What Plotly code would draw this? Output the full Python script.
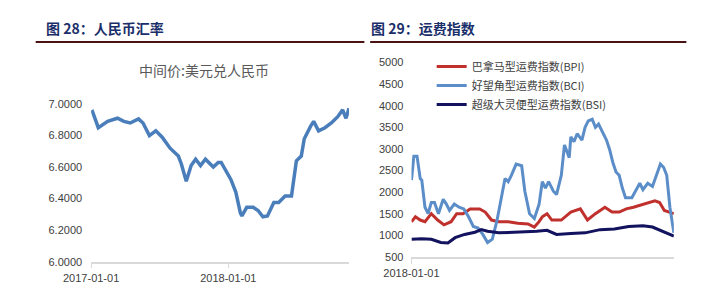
import plotly.graph_objects as go

# ---------------- data ----------------
# Figure 28: USD/CNY central parity
fx_dates = ["2017-01-03", "2017-01-20", "2017-02-14", "2017-03-12", "2017-03-29", "2017-04-15",
            "2017-05-07", "2017-05-19", "2017-06-05", "2017-06-22", "2017-07-09", "2017-07-30",
            "2017-08-21", "2017-08-29", "2017-09-11", "2017-09-24", "2017-10-06", "2017-10-19",
            "2017-11-01", "2017-11-22", "2017-12-05", "2017-12-13", "2018-01-08", "2018-01-21",
            "2018-02-02", "2018-02-06", "2018-02-19", "2018-03-08", "2018-03-21", "2018-04-03",
            "2018-04-15", "2018-05-02", "2018-05-15", "2018-06-01", "2018-06-18", "2018-07-01",
            "2018-07-14", "2018-07-22", "2018-08-08", "2018-08-16", "2018-08-29", "2018-09-15",
            "2018-10-02", "2018-10-19", "2018-11-01", "2018-11-10", "2018-11-18"]
fx_values = [6.963, 6.85, 6.89, 6.91, 6.89, 6.88,
             6.906, 6.88, 6.80, 6.83, 6.79, 6.72,
             6.67, 6.62, 6.51, 6.61, 6.65, 6.61,
             6.65, 6.60, 6.63, 6.63, 6.52, 6.44,
             6.31, 6.29, 6.345, 6.345, 6.325, 6.285,
             6.29, 6.375, 6.375, 6.416, 6.416, 6.64,
             6.67, 6.78, 6.86, 6.89, 6.83, 6.85,
             6.88, 6.92, 6.963, 6.91, 6.973]
fx_ticks = ["2017-01-01", "2018-01-01"]
fx_yticks = [6.0, 6.2, 6.4, 6.6, 6.8, 7.0]

# Figure 29: freight indices
bci_dates = ["2018-01-01", "2018-01-04", "2018-01-08", "2018-01-12", "2018-01-14", "2018-01-18",
             "2018-01-22", "2018-01-26", "2018-01-30", "2018-02-04", "2018-02-10", "2018-02-14",
             "2018-02-18", "2018-02-24", "2018-03-02", "2018-03-08", "2018-03-14", "2018-03-20",
             "2018-03-26", "2018-04-01", "2018-04-07", "2018-04-13", "2018-04-19", "2018-04-25",
             "2018-04-29", "2018-05-03", "2018-05-07", "2018-05-13", "2018-05-20", "2018-05-24",
             "2018-05-30", "2018-06-05", "2018-06-11", "2018-06-15", "2018-06-19", "2018-06-23",
             "2018-06-29", "2018-07-03", "2018-07-09", "2018-07-13", "2018-07-19", "2018-07-21",
             "2018-07-25", "2018-07-29", "2018-08-04", "2018-08-08", "2018-08-12", "2018-08-17",
             "2018-08-21", "2018-08-25", "2018-08-29", "2018-09-04", "2018-09-08", "2018-09-12",
             "2018-09-16", "2018-09-20", "2018-09-24", "2018-09-28", "2018-10-06", "2018-10-12",
             "2018-10-16", "2018-10-20", "2018-10-26", "2018-11-01", "2018-11-07", "2018-11-11",
             "2018-11-15", "2018-11-19", "2018-11-23", "2018-11-28"]
bci_values = [2278, 2833, 2833, 2315, 2278, 1649,
              1500, 1760, 1760, 1500, 1833, 1722,
              1575, 1722, 1649, 1611, 1427, 1204,
              1167, 1020, 833, 909, 1353, 1944,
              2315, 2242, 2389, 2649, 2611, 2020,
              1500, 1389, 1722, 2242, 2093, 2242,
              2020, 1944, 2389, 3093, 2798, 3278,
              3167, 3353, 3204, 3500, 3649, 3686,
              3500, 3575, 3427, 3204, 2982, 2686,
              2464, 2389, 2093, 1871, 1871, 2056,
              2204, 2056, 2204, 2131, 2427, 2649,
              2575, 2389, 1649, 1056]

bpi_dates = ["2018-01-01", "2018-01-06", "2018-01-12", "2018-01-18", "2018-01-26", "2018-02-03",
             "2018-02-11", "2018-02-20", "2018-02-27", "2018-03-07", "2018-03-16", "2018-03-28",
             "2018-04-04", "2018-04-12", "2018-04-21", "2018-05-03", "2018-05-15", "2018-05-28",
             "2018-06-05", "2018-06-11", "2018-06-15", "2018-06-21", "2018-06-27", "2018-07-09",
             "2018-07-21", "2018-08-02", "2018-08-11", "2018-08-21", "2018-09-02", "2018-09-11",
             "2018-09-20", "2018-09-29", "2018-10-08", "2018-10-20", "2018-10-29", "2018-11-04",
             "2018-11-10", "2018-11-16", "2018-11-28"]
bpi_values = [1315, 1427, 1353, 1315, 1500, 1353,
              1242, 1315, 1500, 1500, 1611, 1611,
              1538, 1353, 1315, 1315, 1278, 1264,
              1190, 1315, 1427, 1500, 1353, 1353,
              1538, 1611, 1353, 1500, 1649, 1538,
              1538, 1611, 1649, 1722, 1760, 1797,
              1760, 1575, 1500]

bsi_dates = ["2018-01-01", "2018-01-14", "2018-01-26", "2018-02-07", "2018-02-16", "2018-02-25",
             "2018-03-09", "2018-03-22", "2018-03-30", "2018-04-07", "2018-04-21", "2018-05-15",
             "2018-06-08", "2018-06-21", "2018-07-03", "2018-07-21", "2018-08-08", "2018-08-27",
             "2018-09-14", "2018-10-02", "2018-10-20", "2018-11-01", "2018-11-14", "2018-11-28"]
bsi_values = [909, 922, 909, 833, 820, 944,
              1020, 1071, 1131, 1093, 1056, 1071,
              1093, 1115, 1020, 1042, 1056, 1131,
              1144, 1204, 1220, 1190, 1093, 983]

freight_names = ["巴拿马型运费指数(BPI)", "好望角型运费指数(BCI)", "超级大灵便型运费指数(BSI)"]
freight_ticks = ["2018-01-01"]
freight_yticks = [500, 1000, 1500, 2000, 2500, 3000, 3500, 4000, 4500, 5000]

titles = ["图 28：人民币汇率", "图 29：运费指数"]
subtitle = "中间价:美元兑人民币"

# ---------------- figure ----------------
W, H = 720, 290
def px_x(x):
    return x / W
def px_y(y):
    return (H - y) / H

TICK_FONT = dict(family="Liberation Sans, Arial, sans-serif", size=11, color="#404040")
AXIS_GREY = "#d9d9d9"

fig = go.Figure()
fig.add_trace(go.Scatter(x=fx_dates, y=fx_values, mode="lines",
                         line=dict(color="#4a7ebb", width=3.5),
                         xaxis="x", yaxis="y", showlegend=False))

colors = ["#c0312e", "#5b8ec8", "#12125e"]
order = [(bpi_dates, bpi_values), (bci_dates, bci_values), (bsi_dates, bsi_values)]
for (d, v), name, c in zip(order, freight_names, colors):
    fig.add_trace(go.Scatter(x=d, y=v, mode="lines", name=name,
                             line=dict(color=c, width=3),
                             xaxis="x2", yaxis="y2"))

fig.update_layout(
    width=W, height=H, autosize=False,
    margin=dict(l=0, r=0, t=0, b=0),
    paper_bgcolor="white", plot_bgcolor="white",
    xaxis=dict(domain=[px_x(65.7), px_x(334)], type="date",
               range=["2017-01-01", "2018-11-18"],
               tickvals=fx_ticks, ticktext=fx_ticks,
               showgrid=False, zeroline=False,
               showline=True, linecolor=AXIS_GREY, linewidth=1.5,
               ticks="outside", ticklen=5, tickcolor=AXIS_GREY, tickwidth=1,
               tickfont=dict(family="Liberation Sans, Arial, sans-serif", size=11, color="#404040")),
    yaxis=dict(domain=[px_y(266.7), px_y(102.3)], range=[6.0, 7.0],
               tickvals=fx_yticks, tickformat=".4f",
               showgrid=False, zeroline=False, showline=False, ticks="",
               ticklabelstandoff=8,
               tickfont=TICK_FONT),
    xaxis2=dict(domain=[px_x(399), px_x(672)], type="date",
                range=["2018-01-01", "2018-11-28"],
                tickvals=freight_ticks, ticktext=freight_ticks,
                showgrid=False, zeroline=False,
                showline=True, linecolor=AXIS_GREY, linewidth=1.5,
                ticks="outside", ticklen=5, tickcolor=AXIS_GREY, tickwidth=1,
                anchor="y2",
                tickfont=dict(family="Liberation Sans, Arial, sans-serif", size=11, color="#404040")),
    yaxis2=dict(domain=[px_y(261.7), px_y(59)], range=[500, 5000],
                tickvals=freight_yticks,
                showgrid=False, zeroline=False, showline=False, ticks="",
                anchor="x2", ticklabelstandoff=7,
                tickfont=TICK_FONT),
    legend=dict(x=px_x(420), y=px_y(48), xanchor="left", yanchor="top",
                bgcolor="rgba(0,0,0,0)", borderwidth=0,
                font=dict(family="Noto Sans CJK SC, sans-serif", size=11, color="#404040"),
                itemwidth=30, tracegroupgap=0),
    showlegend=True,
)

# Titles
for txt, x in zip(titles, [17, 355]):
    fig.add_annotation(text="<b>" + txt + "</b>", xref="paper", yref="paper",
                       x=px_x(x), y=px_y(23), xanchor="left", yanchor="middle",
                       showarrow=False,
                       font=dict(family="Noto Sans CJK SC, sans-serif", size=14, color="#1a2f6a"))
fig.add_annotation(text=subtitle, xref="paper", yref="paper",
                   x=px_x(183), y=px_y(67), xanchor="center", yanchor="middle",
                   showarrow=False,
                   font=dict(family="Noto Sans CJK SC, sans-serif", size=14, color="#595959"))

# Header rules
for x0, x1 in [(8, 350), (356, 685)]:
    fig.add_shape(type="line", xref="paper", yref="paper",
                  x0=px_x(x0), x1=px_x(x1), y0=px_y(37.5), y1=px_y(37.5),
                  line=dict(color="#4a1212", width=2))

fig.write_html("out.html")
